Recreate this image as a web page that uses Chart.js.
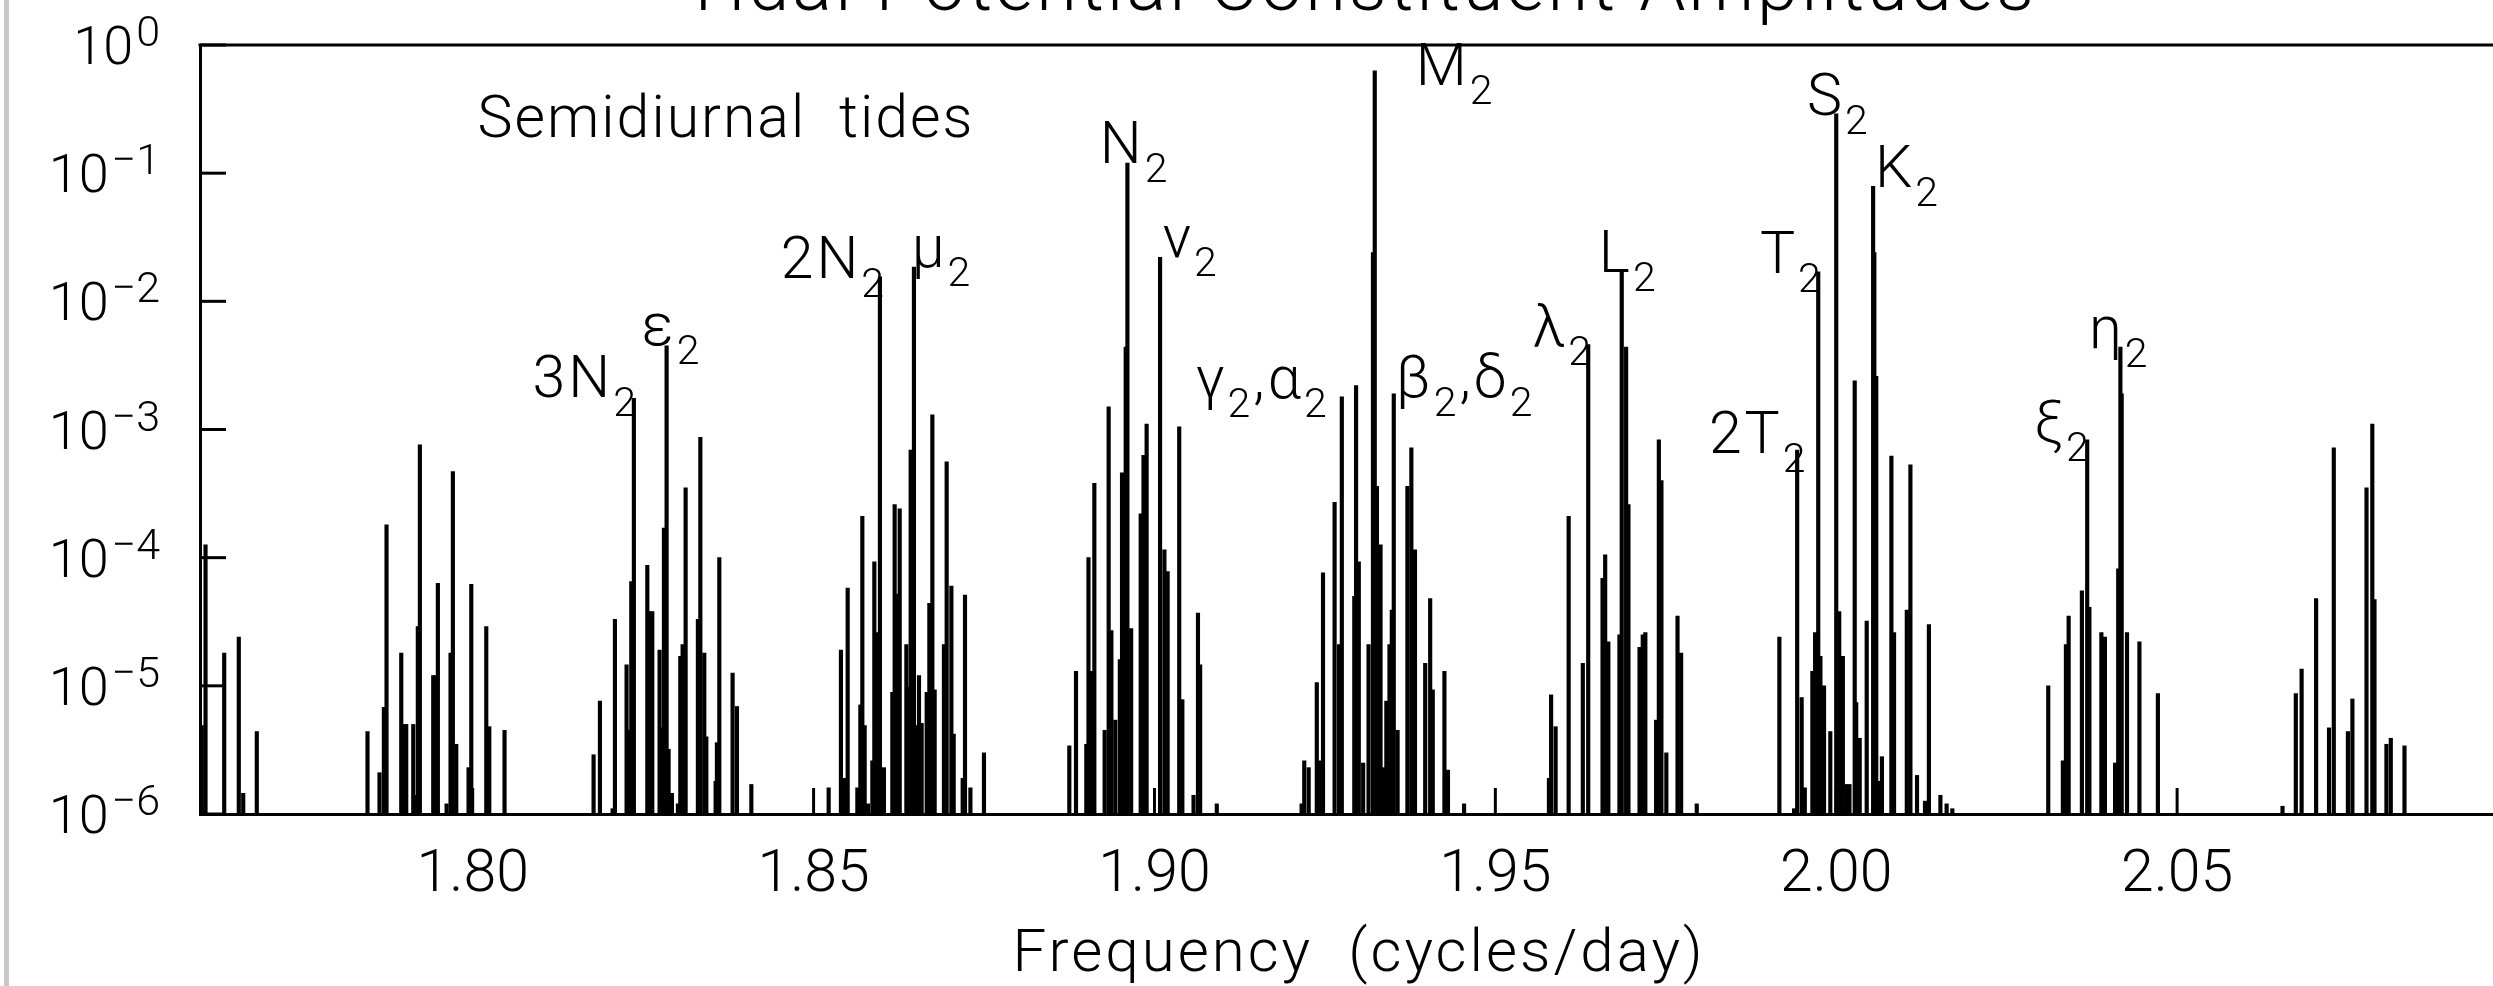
<!DOCTYPE html>
<html>
<head>
<meta charset="utf-8">
<title>Tidal Potential Constituent Amplitudes</title>
<script src="https://cdn.jsdelivr.net/npm/chart.js"></script>
<style>
  html, body { margin: 0; padding: 0; background: #fff; overflow: hidden; width: 2493px; height: 986px; }
  #edge { position: absolute; left: 4px; top: 0; width: 5px; height: 986px; background: #c8c8c8; z-index: 2; }
  #tides { position: absolute; left: 0; top: -60px; }
</style>
</head>
<body>
<div id="edge"></div>
<canvas id="tides" width="2560" height="1046"></canvas>
<script>
// ===== Semidiurnal tidal potential spectrum =====

const chartTitle = 'Tidal Potential Constituent Amplitudes';
const xTitle = 'Frequency  (cycles/day)';

// axis ticks
const xTicks = [1.80, 1.85, 1.90, 1.95, 2.00, 2.05];
const yTicks = [1e-6, 1e-5, 1e-4, 1e-3, 1e-2, 1e-1, 1e0];

// spectral lines, one pair of arrays per group (cycles/day, amplitude)
const freq176 = [1.76026, 1.76081, 1.76355, 1.76569, 1.76634, 1.76833];
const amp176  = [4.9e-6, 1.26e-4, 1.8e-5, 2.4e-5, 1.45e-6, 4.4e-6];

const freq179 = [1.78457, 1.78633, 1.78697, 1.78736, 1.78952, 1.78990, 1.79025, 1.79128, 1.79162, 1.79195,
                 1.79225, 1.79421, 1.79451, 1.79489, 1.79617, 1.79675, 1.79709, 1.79759, 1.79939, 1.79979,
                 1.80199, 1.80243, 1.80467];
const amp179  = [4.4e-6, 2.1e-6, 6.8e-6, 1.8e-4, 1.8e-5, 5e-6, 5e-6, 5e-6, 1.4e-6, 2.9e-5,
                 7.6e-4, 1.2e-5, 1.2e-5, 6.3e-5, 1.2e-6, 1.8e-5, 4.7e-4, 3.5e-6, 2.3e-6, 6.2e-5,
                 2.9e-5, 4.8e-6, 4.5e-6];

const freq183 = [1.81773, 1.81866, 1.82052, 1.82086, 1.82257, 1.82291, 1.82326, 1.82364, 1.82561, 1.82595,
                 1.82634, 1.82741, 1.82771, 1.82805, 1.82844, 1.82873, 1.82922, 1.83010, 1.83045, 1.83079,
                 1.83123, 1.83303, 1.83339, 1.83397, 1.83427, 1.83563, 1.83582, 1.83617, 1.83812, 1.83876,
                 1.84087];
const amp183  = [2.9e-6, 7.6e-6, 1.1e-6, 3.3e-5, 1.46e-5, 4.5e-6, 6.5e-5, 1.75e-3, 8.7e-5, 3.8e-5,
                 3.8e-5, 1.9e-5, 4.7e-6, 1.7e-4, 4.5e-3, 3.2e-6, 1.45e-6, 1.2e-6, 1.7e-5, 2.1e-5,
                 3.5e-4, 3.3e-5, 8.7e-4, 1.8e-5, 4e-6, 1.8e-6, 3.6e-6, 1e-4, 1.26e-5, 6.9e-6,
                 1.7e-6];

const freq186 = [1.85221, 1.85401, 1.85445, 1.85500, 1.85642, 1.85686, 1.85715, 1.85749, 1.85797, 1.85862,
                 1.85891, 1.85925, 1.85973, 1.86032, 1.86155, 1.86189, 1.86223, 1.86263, 1.86361, 1.86390,
                 1.86424, 1.86472, 1.86508, 1.86546, 1.86585, 1.86659, 1.86698, 1.86742, 1.86776, 1.86912,
                 1.86952, 1.87021, 1.87055, 1.87187, 1.87221, 1.87300, 1.87499];
const amp186  = [1.6e-6, 1.9e-5, 1.9e-6, 5.8e-5, 1.6e-6, 7.1e-6, 2.1e-4, 4.9e-6, 1.2e-6, 2.6e-6,
                 9.3e-5, 2.6e-5, 1.55e-2, 2.3e-6, 8.9e-6, 2.6e-4, 5.2e-5, 2.4e-4, 2.1e-5, 9.8e-6,
                 6.9e-4, 1.85e-2, 4.9e-6, 1.2e-5, 5.1e-6, 8.9e-6, 4.4e-5, 1.3e-3, 9.3e-6, 2.1e-5,
                 5.6e-4, 6e-5, 4.2e-6, 1.9e-6, 5.1e-5, 1.6e-6, 3e-6];

const freq190 = [1.88751, 1.88849, 1.89000, 1.89032, 1.89072, 1.89118, 1.89269, 1.89328, 1.89368, 1.89426,
                 1.89492, 1.89524, 1.89578, 1.89603, 1.89658, 1.89798, 1.89839, 1.89885, 1.90082, 1.90146,
                 1.90193, 1.90363, 1.90409, 1.90573, 1.90638, 1.90670, 1.90914];
const amp190  = [3.4e-6, 1.3e-5, 3.5e-6, 1e-4, 1.3e-5, 3.8e-4, 4.5e-6, 1.5e-3, 2.7e-5, 5.4e-6,
                 1.6e-5, 4.6e-4, 4.4e-3, 0.12, 2.8e-5, 2.2e-4, 6.3e-4, 1.1e-3, 2.2e-2, 1.15e-4,
                 7.8e-5, 1.05e-3, 7.8e-6, 1.4e-6, 3.7e-5, 1.46e-5, 1.2e-6];

const freq193 = [1.92158, 1.92197, 1.92262, 1.92381, 1.92432, 1.92472, 1.92642, 1.92708, 1.92748, 1.92931,
                 1.92957, 1.92997, 1.93061, 1.93140, 1.93205, 1.93231, 1.93263, 1.93316, 1.93363, 1.93401,
                 1.93447, 1.93481, 1.93510, 1.93566, 1.93710, 1.93768, 1.93821, 1.93971, 1.94044, 1.94082,
                 1.94253, 1.94305, 1.94541];
const amp193  = [1.2e-6, 2.6e-6, 2.3e-6, 1.06e-5, 2.6e-6, 7.6e-5, 2.7e-4, 2.1e-5, 1.8e-3, 5e-5,
                 2.2e-3, 9.3e-5, 2.5e-6, 2.1e-5, 2.4e-2, 0.63, 3.6e-4, 1.26e-4, 2.3e-6, 7.6e-6,
                 2.1e-5, 3.9e-5, 1.9e-3, 4.5e-6, 3.6e-4, 7.2e-4, 1.15e-4, 1.5e-5, 4.8e-5, 9.3e-6,
                 1.3e-5, 2.2e-6, 1.2e-6];

const freq197 = [1.95786, 1.95818, 1.95884, 1.96075, 1.96283, 1.96362, 1.96572, 1.96611, 1.96657, 1.96820,
                 1.96854, 1.96918, 1.96952, 1.97115, 1.97162, 1.97200, 1.97358, 1.97398, 1.97436, 1.97508,
                 1.97672, 1.97725, 1.97954];
const amp197  = [1.9e-6, 8.5e-6, 4.8e-6, 2.1e-4, 1.5e-5, 4.6e-3, 6.9e-5, 1.05e-4, 2.2e-5, 2.5e-5,
                 1.7e-2, 4.4e-3, 2.6e-4, 2e-5, 2.5e-5, 2.6e-5, 5.4e-6, 8.3e-4, 4e-4, 3e-6,
                 3.5e-5, 1.8e-5, 1.2e-6];

const freq200 = [1.99166, 1.99382, 1.99427, 1.99493, 1.99539, 1.99650, 1.99690, 1.99736, 1.99768, 1.99821,
                 1.99913, 2.00000, 2.00044, 2.00097, 2.00148, 2.00194, 2.00271, 2.00293, 2.00344, 2.00447,
                 2.00541, 2.00559, 2.00587, 2.00620, 2.00670, 2.00809, 2.00848, 2.01035, 2.01088, 2.01185,
                 2.01302, 2.01359, 2.01528, 2.01619, 2.01703];
const amp200  = [2.4e-5, 1.1e-6, 6.9e-4, 8.1e-6, 1.6e-6, 1.3e-5, 2.6e-5, 1.7e-2, 1.7e-5, 1e-5,
                 4.4e-6, 0.29, 3.8e-5, 1.7e-5, 1.7e-6, 1.7e-6, 2.4e-3, 7.4e-6, 3.9e-6, 3.2e-5,
                 7.9e-2, 2.4e-2, 2.6e-3, 1.8e-6, 2.8e-6, 6.2e-4, 2.6e-5, 3.9e-5, 5.3e-4, 2e-6,
                 1.26e-6, 3e-5, 1.4e-6, 1.2e-6, 1.1e-6];

const freq204 = [2.03110, 2.03324, 2.03369, 2.03409, 2.03603, 2.03681, 2.03713, 2.03889, 2.03941, 2.04090,
                 2.04136, 2.04168, 2.04187, 2.04265, 2.04447, 2.04718];
const amp204  = [1e-5, 2.6e-6, 2.1e-5, 3.5e-5, 5.5e-5, 8.3e-4, 4.1e-5, 2.6e-5, 2.4e-5, 2.5e-6,
                 8.2e-5, 4.4e-3, 1.9e-3, 2.6e-5, 2.2e-5, 8.7e-6];

const freq207 = [2.06546, 2.06741, 2.06826, 2.07039, 2.07228, 2.07298, 2.07505, 2.07571, 2.07778, 2.07863,
                 2.07895, 2.08070, 2.08134, 2.08335];
const amp207  = [1.15e-6, 8.7e-6, 1.35e-5, 4.8e-5, 4.7e-6, 7.2e-4, 4.4e-6, 7.9e-6, 3.5e-4, 1.1e-3,
                 4.7e-5, 3.5e-6, 3.9e-6, 3.4e-6];

// constituent names ('_' marks a subscript), anchored at text baseline (cpd, amplitude)
const labelText = ['3N_2', 'ε_2', '2N_2', 'μ_2', 'N_2', 'ν_2', 'γ_2,α_2', 'M_2', 'β_2,δ_2',
                   'λ_2', 'L_2', '2T_2', 'T_2', 'S_2', 'K_2', 'ξ_2', 'η_2'];
const labelFreq = [1.80878, 1.82477, 1.84517, 1.86439, 1.89197, 1.90121, 1.90605, 1.93833, 1.93540,
                   1.95549, 1.96518, 1.98132, 1.98880, 1.99570, 2.00567, 2.02900, 2.03707];
const labelAmp  = [1.80e-3, 4.57e-3, 1.52e-2, 1.85e-2, 0.120, 2.22e-2, 1.77e-3, 0.488, 1.80e-3,
                   4.49e-3, 1.70e-2, 6.56e-4, 1.67e-2, 0.284, 7.80e-2, 8.0e-4, 4.33e-3];

const bandText = 'Semidiurnal  tides';
const bandFreq = 1.80071;
const bandAmp = 0.191;

// ==================== HELPERS ====================
const FONT = 'Roboto, "Noto Sans", "DejaVu Sans", sans-serif';
const BASE_FONT = '300 59px ' + FONT;
const SUB_FONT = '300 41px ' + FONT;
const TICK_FONT = '300 54px ' + FONT;
const SUP_FONT = '300 43px ' + FONT;
const TITLE_FONT = '300 74px ' + FONT;
const AXIS_FONT = '300 60px ' + FONT;

function buildPoints() {
    const groups = [
        [freq176, amp176], [freq179, amp179], [freq183, amp183], [freq186, amp186], [freq190, amp190],
        [freq193, amp193], [freq197, amp197], [freq200, amp200], [freq204, amp204], [freq207, amp207]
    ];
    const pts = [];
    groups.forEach(([f, a]) => f.forEach((v, i) => pts.push({ x: v, y: a[i] })));
    return pts;
}

function drawSubText(ctx, text, x, y) {
    let cx = x;
    for (let i = 0; i < text.length; i++) {
        let ch = text[i];
        let sub = false;
        if (ch === '_') { sub = true; ch = text[++i]; }
        ctx.font = sub ? SUB_FONT : BASE_FONT;
        ctx.fillText(ch, cx, sub ? y + 19 : y);
        cx += ctx.measureText(ch).width;
    }
}

function line(ctx, x1, y1, x2, y2) {
    ctx.beginPath();
    ctx.moveTo(x1, y1);
    ctx.lineTo(x2, y2);
    ctx.stroke();
}

const tideText = {
    id: 'tideText',
    afterDraw(chart) {
        const { ctx, chartArea, scales } = chart;
        const xs = scales.x, ys = scales.y;
        const tick = 26;
        ctx.save();
        ctx.fillStyle = '#000';
        ctx.strokeStyle = '#000';
        ctx.lineWidth = 3;

        // top frame line and inward tick marks
        line(ctx, chartArea.left - 1.5, chartArea.top, chartArea.right, chartArea.top);
        yTicks.forEach(v => {
            const y = ys.getPixelForValue(v);
            line(ctx, chartArea.left, y, chartArea.left + tick, y);
        });
        xTicks.forEach(v => {
            const x = xs.getPixelForValue(v);
            line(ctx, x, chartArea.bottom, x, chartArea.bottom - tick);
        });

        // y tick labels 10^n
        ctx.textBaseline = 'alphabetic';
        ctx.textAlign = 'right';
        yTicks.forEach(v => {
            const y = ys.getPixelForValue(v);
            const e = Math.round(Math.log10(v));
            const sup = e === 0 ? '0' : '\u2212' + (-e);
            const right = chartArea.left - 40;
            ctx.font = SUP_FONT;
            ctx.fillText(sup, right, y + 1);
            const w = ctx.measureText(sup).width;
            ctx.font = TICK_FONT;
            ctx.fillText('10', right - w - 3, y + 19);
        });

        const mid = (chartArea.left + chartArea.right) / 2;
        ctx.textAlign = 'center';

        // chart title (cut by the top of the page) and x axis title
        ctx.letterSpacing = '3px';
        ctx.font = TITLE_FONT;
        ctx.fillText(chartTitle, mid, chartArea.top - 35);
        ctx.font = AXIS_FONT;
        ctx.fillText(xTitle, mid, chartArea.bottom + 157);

        // band title and constituent names
        ctx.textAlign = 'left';
        ctx.letterSpacing = '2px';
        ctx.font = BASE_FONT;
        ctx.fillText(bandText, xs.getPixelForValue(bandFreq), ys.getPixelForValue(bandAmp));
        ctx.letterSpacing = '3px';
        labelText.forEach((t, i) => {
            drawSubText(ctx, t, xs.getPixelForValue(labelFreq[i]), ys.getPixelForValue(labelAmp[i]));
        });
        ctx.restore();
    }
};

// ==================== CHART ====================
window.addEventListener('load', () => {
    const canvas = document.getElementById('tides');
    new Chart(canvas, {
        type: 'bar',
        data: {
            datasets: [{
                data: buildPoints(),
                backgroundColor: '#000',
                borderWidth: 0,
                barThickness: 3.5,
                base: 1e-6
            }]
        },
        options: {
            responsive: false,
            animation: false,
            devicePixelRatio: 1,
            layout: { autoPadding: false, padding: { left: 0, right: 42, top: 105, bottom: 0 } },
            plugins: {
                legend: { display: false },
                tooltip: { enabled: false },
                title: { display: false }
            },
            scales: {
                x: {
                    type: 'linear',
                    min: 1.76,
                    max: 2.10,
                    offset: false,
                    afterBuildTicks: s => { s.ticks = xTicks.map(v => ({ value: v })); },
                    afterFit: s => { s.height = 172; },
                    ticks: {
                        color: '#000',
                        font: { family: FONT, size: 59, weight: 300 },
                        padding: 27,
                        maxRotation: 0,
                        autoSkip: false,
                        callback: v => Number(v).toFixed(2)
                    },
                    grid: { offset: false, drawOnChartArea: false, drawTicks: false },
                    border: { display: true, color: '#000', width: 3 }
                },
                y: {
                    type: 'logarithmic',
                    position: 'left',
                    min: 1e-6,
                    max: 1,
                    afterBuildTicks: s => { s.ticks = yTicks.map(v => ({ value: v })); },
                    afterFit: s => { s.width = 200; },
                    ticks: { display: false },
                    grid: { drawOnChartArea: false, drawTicks: false },
                    border: { display: true, color: '#000', width: 3 }
                }
            }
        },
        plugins: [tideText]
    });
});
</script>
</body>
</html>
